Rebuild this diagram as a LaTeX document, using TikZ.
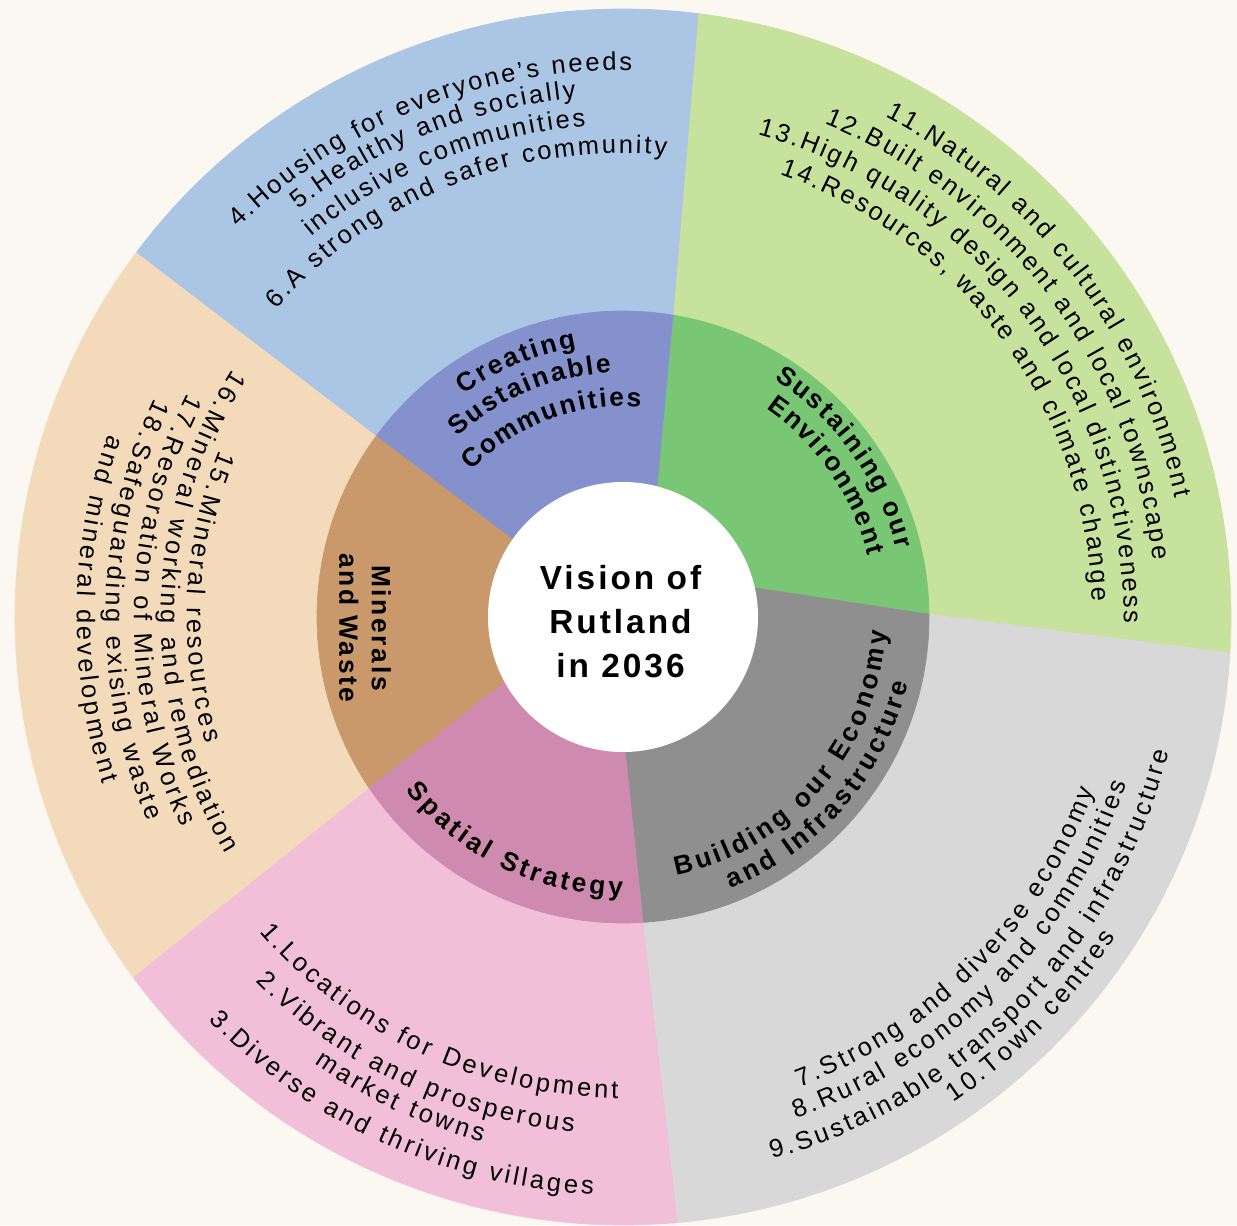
\documentclass[tikz,border=0pt]{standalone}
\usepackage{fontspec}
\setmainfont{Liberation Sans}
\usetikzlibrary{decorations.text}

\definecolor{bgcream}{HTML}{FAF8F1}
\definecolor{comlight}{HTML}{ABC5E5}
\definecolor{comdark}{HTML}{8491CC}
\definecolor{envlight}{HTML}{C6E29C}
\definecolor{envdark}{HTML}{79C774}
\definecolor{ecolight}{HTML}{D8D8D9}
\definecolor{ecodark}{HTML}{8F8F8F}
\definecolor{spalight}{HTML}{F1BFD8}
\definecolor{spadark}{HTML}{CF8BAF}
\definecolor{minlight}{HTML}{F3DABB}
\definecolor{mindark}{HTML}{C9986B}

\newcommand\itemfont{\fontsize{14.5}{17.5}\selectfont\kern1.65pt}
\newcommand\themefont{\bfseries\fontsize{15}{18}\selectfont\kern1.6pt}

\begin{document}
\begin{tikzpicture}[
        cw/.style={decorate, decoration={text along path, text align=center, raise=-5.2pt,
            text/.expanded={|\noexpand\itemfont|#1}}},
        themecw/.style={decorate, decoration={text along path, text align=center, raise=-5.4pt,
            text/.expanded={|\noexpand\themefont|#1}}}
    ]
    \useasboundingbox[fill=bgcream] (-12.46,-12.16) rectangle (12.28,12.34);

    % rings: outer objectives, inner themes
    \foreach \ai/\am/\ao/\bi/\bm/\bo/\outer/\inner in {
            12.5/0.5/-3.4/75.4/80.6/82.9/envlight/envdark,
            75.4/80.6/82.9/145/143.8/143.2/comlight/comdark,
            145/143.8/143.2/209/214/216.4/minlight/mindark,
            209/214/216.4/271.3/273.9/275.2/spalight/spadark,
            271.3/273.9/275.2/372.5/360.5/356.6/ecolight/ecodark} {
        \filldraw[fill=\outer, draw=\outer, line width=0.4pt] (\am:6.12) -- (\ao:12.16)
            arc[start angle=\ao, end angle=\bo, radius=12.16] -- (\bm:6.12)
            arc[start angle=\bm, end angle=\am, radius=6.12] -- cycle;
        \filldraw[fill=\inner, draw=\inner, line width=0.4pt] (\ai:2.7) -- (\am:6.12)
            arc[start angle=\am, end angle=\bm, radius=6.12] -- (\bi:2.7)
            arc[start angle=\bi, end angle=\ai, radius=2.7] -- cycle;
    }

    \node[circle, fill=white, minimum size=5.4cm, inner sep=0pt] (hub) at (0,0) {};
    \node[align=center, font=\bfseries\fontsize{19}{25}\selectfont\addfontfeatures{LetterSpace=9}]
        (vision) at (-0.05,-0.1) {Vision of\\Rutland\\in 2036};

    % objectives, read clockwise over the top
    \foreach \a/\r/\t in {
            112/11.12/{4.Housing for everyone's needs},
            112/10.6/{5.Healthy and socially},
            112/10.02/{inclusive communities},
            111.7/9.46/{6.A strong and safer community},
            37.4/11.48/{11.Natural and cultural environment},
            37.1/10.84/{12.Built environment and local townscape},
            37/10.2/{13.High quality design and local distinctiveness},
            36.4/9.58/{14.Resources, waste and climate change}}
        \path[cw=\t] (\a+55:\r) arc[start angle=\a+55, end angle=\a-55, radius=\r];

    % objectives, read anticlockwise under the bottom
    \foreach \a/\r/\t in {
            -45/9.86/{7.Strong and diverse economy},
            -44.8/10.42/{8.Rural economy and communities},
            -44.4/11.06/{9.Sustainable transport and infrastructure},
            -44.5/11.56/{10.Town centres},
            245/9.44/{1.Locations for Development},
            244.5/10.16/{2.Vibrant and prosperous},
            245/10.68/{market towns},
            245.5/11.38/{3.Diverse and thriving villages},
            177/8.54/{15.Mineral resources},
            179/9.06/{16.Mineral working and remediation},
            179/9.6/{17.Resoration of Mineral Works},
            179/10.16/{18.Safeguarding exising waste},
            179/10.74/{and mineral development}}
        \path[cw=\t] (\a-55:\r) arc[start angle=\a-55, end angle=\a+55, radius=\r];

    % themes
    \foreach \a/\r/\t in {
            113/5.66/{Creating},
            113/5.08/{Sustainable},
            111/4.4/{Communities},
            36/5.82/{Sustaining our},
            35/5.24/{Environment}}
        \path[themecw=\t] (\a+45:\r) arc[start angle=\a+45, end angle=\a-45, radius=\r];
    \foreach \a/\r/\t in {
            -41/5.08/{Building our Economy},
            -41/5.66/{and Infrastructure},
            244/5.38/{Spatial Strategy}}
        \path[themecw=\t] (\a-50:\r) arc[start angle=\a-50, end angle=\a+50, radius=\r];

    \node[rotate=-90, align=center, font=\bfseries\fontsize{15}{18.5}\selectfont\addfontfeatures{LetterSpace=10}]
        (minerals) at (-5.16,-0.22) {Minerals\\and Waste};
\end{tikzpicture}
\end{document}
